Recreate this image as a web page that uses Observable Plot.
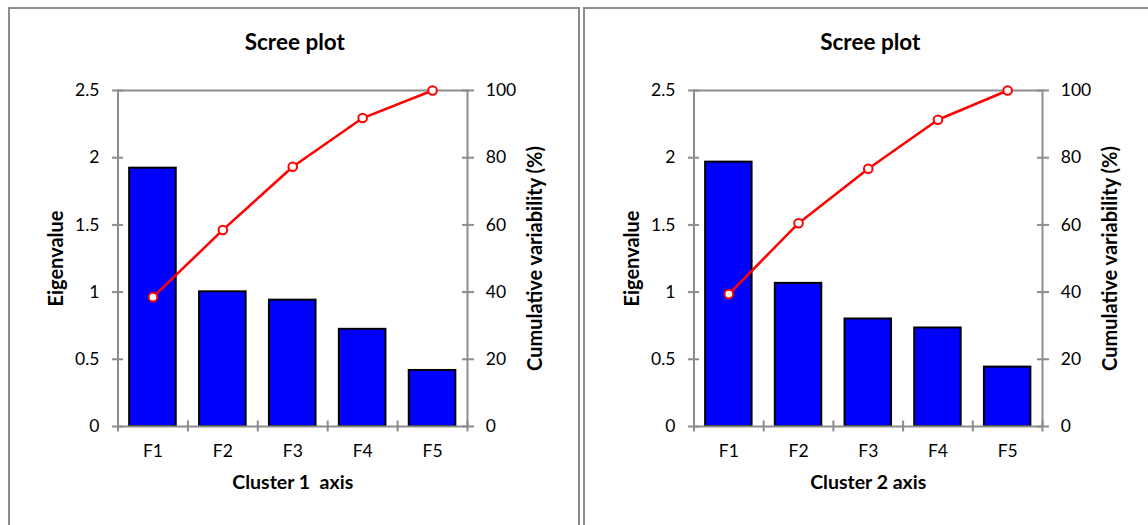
<!DOCTYPE html>
<html><head><meta charset="utf-8">
<script src="https://cdn.jsdelivr.net/npm/d3@7"></script>
<script src="https://cdn.jsdelivr.net/npm/@observablehq/plot@0.6"></script>
<style>
html,body{margin:0;padding:0;background:#fff;width:1148px;height:525px;overflow:hidden;}
.panel{position:absolute;box-sizing:border-box;border:2px solid #8c8c8c;}
.chart{position:absolute;top:0;}
svg text{white-space:pre;}
</style></head><body>
<div class="panel" style="left:8px;top:7px;width:572px;height:540px"></div>
<div class="panel" style="left:583px;top:7px;width:600px;height:540px"></div>
<div id="c1" class="chart" style="left:0px"></div>
<div id="c2" class="chart" style="left:576px"></div>
<script>
const categories = ["F1", "F2", "F3", "F4", "F5"];
const eigen1 = [1.922, 1.002, 0.940, 0.723, 0.417];
const cumul1 = [38.5, 58.5, 77.3, 91.8, 100];
const eigen2 = [1.967, 1.065, 0.800, 0.733, 0.442];
const cumul2 = [39.4, 60.5, 76.7, 91.3, 100];
const eigenTicks = [0, 0.5, 1, 1.5, 2, 2.5];
const cumulTicks = [0, 20, 40, 60, 80, 100];
const chartTitle = "Scree plot";
const yTitle = "Eigenvalue";
const y2Title = "Cumulative variability (%)";
const xTitles = ["Cluster 1  axis", "Cluster 2 axis"];

const gray = "#8c8c8c";
const toY = v => v * 2.5 / 100;

function scree(eig, cum, xTitle, width, mL, mR) {
  const data = categories.map((c, i) => ({pos: i + 1, cat: c, eig: eig[i], cum: cum[i]}));
  const bounds = d3.range(categories.length + 1).map(i => i + 0.5);
  return Plot.plot({
    width, height: 525, marginLeft: mL, marginRight: mR, marginTop: 90, marginBottom: 99,
    style: {fontFamily: "Lato, sans-serif", fontSize: "17.5px", color: "#000", background: "transparent", overflow: "visible"},
    x: {type: "linear", domain: [0.5, categories.length + 0.5], axis: null},
    y: {domain: [0, 2.5], axis: null},
    marks: [
      Plot.rectY(data, {x1: d => d.pos - 1/3, x2: d => d.pos + 1/3, y1: 0, y2: "eig", fill: "#0000ff", stroke: "#000", strokeWidth: 2}),
      Plot.frame({stroke: gray, strokeWidth: 2}),
      Plot.axisY({anchor: "left", label: null, ticks: eigenTicks, tickFormat: d => String(d), tickSize: 11, dx: 5.5, tickPadding: 13, stroke: gray, strokeWidth: 2, fill: "#000"}),
      Plot.axisY({anchor: "right", label: null, ticks: cumulTicks.map(toY), tickFormat: d => String(Math.round(d * 40)), tickSize: 12, dx: -6, tickPadding: 12.3, stroke: gray, strokeWidth: 2, fill: "#000"}),
      Plot.axisX({anchor: "bottom", label: null, ticks: bounds, tickFormat: () => "", tickSize: 11, dy: -5.5, stroke: gray, strokeWidth: 2}),
      Plot.axisX({anchor: "bottom", label: null, ticks: data.map(d => d.pos), tickFormat: d => categories[d - 1], tickSize: 0, tickPadding: 18, fill: "#000"}),
      Plot.line(data, {x: "pos", y: d => toY(d.cum), stroke: "#ff0000", strokeWidth: 2.5}),
      Plot.dot(data, {x: "pos", y: d => toY(d.cum), r: 4.3, fill: "#fff", stroke: "#ff0000", strokeWidth: 2}),
      Plot.text([chartTitle], {text: d => d, frameAnchor: "top", dy: -47.5, dx: 2, fontSize: 22.5, fontWeight: "bold", lineAnchor: "middle", fill: "#000"}),
      Plot.text([yTitle], {text: d => d, frameAnchor: "left", dx: -61, rotate: -90, textAnchor: "middle", lineAnchor: "middle", fontSize: 20, fontWeight: "bold", fill: "#000"}),
      Plot.text([y2Title], {text: d => d, frameAnchor: "right", dx: 68, rotate: -90, textAnchor: "middle", lineAnchor: "middle", fontSize: 20, fontWeight: "bold", fill: "#000"}),
      Plot.text([xTitle], {text: d => d, frameAnchor: "bottom", dy: 56.5, textAnchor: "middle", lineAnchor: "middle", fontSize: 19.5, fontWeight: "bold", fill: "#000"})
    ]
  });
}

document.getElementById("c1").append(scree(eigen1, cumul1, xTitles[0], 576, 117.5, 109));
document.getElementById("c2").append(scree(eigen2, cumul2, xTitles[1], 572, 117.5, 106));
</script>
</body></html>
